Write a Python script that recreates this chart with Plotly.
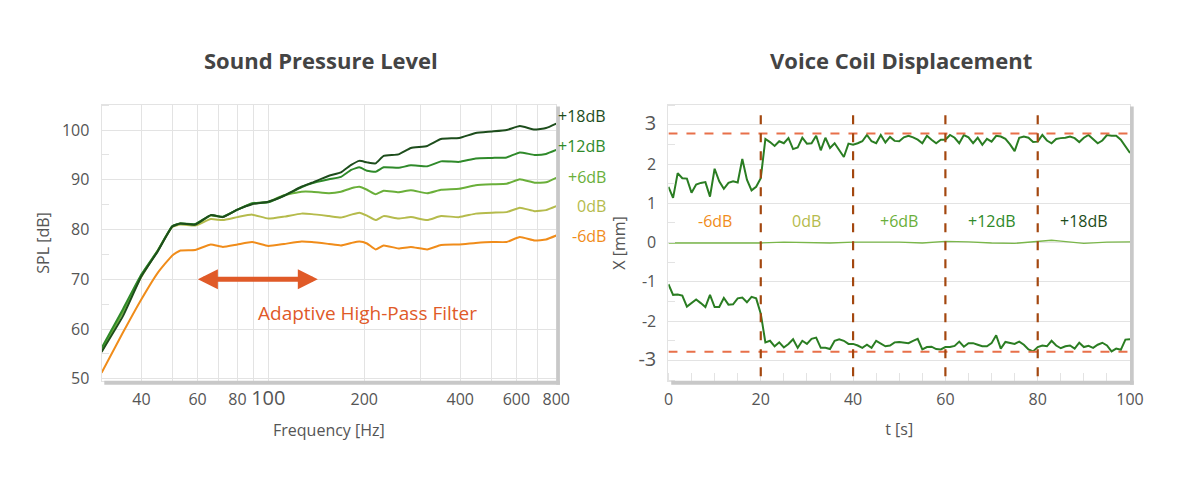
import plotly.graph_objects as go
import math

# --- Sound Pressure Level (left) ---
freq = [30, 35, 40, 45, 50, 53, 59, 66, 72, 80, 89, 100, 112, 127, 137, 155, 169,
        182, 193, 204, 217, 230, 256, 280, 315, 348, 397, 447, 503, 559, 615, 684, 743, 800]

spl_m6 = [51.2, 59.3, 66.0, 71.3, 74.8, 75.8, 75.9, 77.0, 76.5, 77.0, 77.5, 76.7, 77.1,
          77.6, 77.5, 77.1, 76.8, 77.3, 77.6, 77.2, 76.0, 76.8, 76.2, 76.5, 76.0, 76.9,
          77.0, 77.3, 77.5, 77.5, 78.5, 77.8, 78.0, 78.8]
spl_0 = [55.5, 63.5, 70.5, 75.8, 80.5, 81.0, 80.8, 82.1, 81.9, 82.5, 83.0, 82.2, 82.6,
         83.2, 83.1, 82.7, 82.4, 83.0, 83.4, 82.8, 81.9, 82.7, 82.2, 82.5, 81.9, 82.7,
         82.5, 83.2, 83.4, 83.5, 84.4, 83.7, 83.9, 84.7]
spl_p6 = [55.8, 63.5, 70.8, 75.7, 80.6, 81.2, 81.0, 82.8, 82.5, 84.0, 85.2, 85.6, 86.9,
          87.6, 87.6, 87.3, 87.6, 88.3, 88.6, 88.0, 87.1, 87.8, 87.5, 87.9, 87.3, 88.0,
          88.2, 88.9, 89.1, 89.2, 90.1, 89.4, 89.5, 90.4]
spl_p12 = [56.2, 64.0, 71.0, 75.8, 80.7, 81.2, 81.1, 82.9, 82.6, 84.0, 85.3, 85.5, 86.8,
           88.5, 89.3, 90.1, 90.6, 92.0, 92.5, 91.8, 91.6, 92.5, 92.4, 92.9, 92.7, 93.7,
           93.6, 94.3, 94.4, 94.5, 95.5, 95.0, 95.2, 96.0]
spl_p18 = [55.4, 62.6, 70.6, 75.6, 80.6, 81.2, 81.0, 82.9, 82.5, 84.0, 85.1, 85.6, 86.8,
           88.6, 89.4, 90.8, 91.5, 93.0, 93.8, 93.5, 93.3, 94.8, 95.1, 96.4, 96.8, 98.2,
           98.4, 99.4, 99.7, 100.0, 100.8, 100.1, 100.4, 101.3]

level_names = ["-6dB", "0dB", "+6dB", "+12dB", "+18dB"]
level_colors = ["#f08c1a", "#b5bb4c", "#6aaf3a", "#2f8a2a", "#1d4d1c"]

freq_ticks = [40, 60, 80, 100, 200, 400, 600, 800]
freq_minor = [50, 70, 90, 300, 500, 700]
filter_band = [59.5, 143]   # Hz, extent of the double arrow

# --- Voice Coil Displacement (right) ---
t = list(range(0, 101))
x_upper = [1.42, 1.14, 1.77, 1.64, 1.63, 1.27, 1.48, 1.52, 1.54, 1.17, 1.88, 1.56, 1.37,
           1.52, 1.56, 1.53, 2.13, 1.60, 1.33, 1.42, 1.64, 2.64, 2.56, 2.46, 2.58, 2.53,
           2.66, 2.38, 2.42, 2.67, 2.52, 2.53, 2.72, 2.35, 2.67, 2.41, 2.53, 2.35, 2.18,
           2.52, 2.49, 2.53, 2.58, 2.74, 2.58, 2.53, 2.74, 2.55, 2.69, 2.59, 2.58, 2.68,
           2.72, 2.68, 2.62, 2.53, 2.72, 2.62, 2.53, 2.62, 2.62, 2.74, 2.67, 2.53, 2.74,
           2.68, 2.53, 2.67, 2.49, 2.64, 2.57, 2.72, 2.70, 2.64, 2.50, 2.33, 2.67, 2.70,
           2.67, 2.56, 2.57, 2.74, 2.60, 2.53, 2.64, 2.66, 2.67, 2.70, 2.66, 2.56, 2.67,
           2.74, 2.64, 2.53, 2.60, 2.74, 2.72, 2.72, 2.62, 2.45, 2.28]
x_lower = [-1.06, -1.33, -1.32, -1.35, -1.63, -1.53, -1.45, -1.54, -1.64, -1.33, -1.64,
           -1.64, -1.41, -1.58, -1.57, -1.42, -1.40, -1.52, -1.38, -1.42, -1.81, -2.54,
           -2.50, -2.64, -2.54, -2.67, -2.58, -2.46, -2.68, -2.50, -2.58, -2.45, -2.42,
           -2.68, -2.68, -2.71, -2.50, -2.46, -2.50, -2.58, -2.58, -2.62, -2.68, -2.60,
           -2.68, -2.50, -2.58, -2.64, -2.62, -2.54, -2.53, -2.54, -2.56, -2.50, -2.45,
           -2.72, -2.66, -2.65, -2.71, -2.72, -2.66, -2.66, -2.63, -2.52, -2.65, -2.56,
           -2.56, -2.60, -2.64, -2.64, -2.56, -2.36, -2.70, -2.53, -2.56, -2.58, -2.52,
           -2.60, -2.72, -2.77, -2.66, -2.62, -2.64, -2.50, -2.62, -2.69, -2.64, -2.62,
           -2.70, -2.55, -2.66, -2.63, -2.68, -2.60, -2.55, -2.62, -2.77, -2.70, -2.73,
           -2.47, -2.46]
t_mid = [0, 5, 10, 15, 20, 25, 30, 35, 40, 45, 50, 55, 60, 65, 70, 75, 80, 83, 85, 90, 95, 100]
x_mid = [-0.01, -0.01, -0.01, 0.0, -0.01, 0.01, 0.0, -0.01, 0.01, 0.01, 0.01, -0.01,
         0.03, 0.02, -0.01, -0.02, 0.03, 0.06, 0.04, -0.02, 0.01, 0.02]

x_limit = 2.78
phase_edges = [20, 40, 60, 80]
phase_centers = [10, 30, 50, 70, 90]

FONT = "Open Sans"
W, H = 1200, 478
L_DOM = [90 / W, 552 / W]
R_DOM = [666 / W, 1135 / W]
Y_DOM = [1 - 380 / H, 1 - 99 / H]

fig = go.Figure()

for vals, name, col in zip([spl_m6, spl_0, spl_p6, spl_p12, spl_p18], level_names, level_colors):
    fig.add_trace(go.Scatter(x=freq, y=vals, mode="lines", name=name,
                             line=dict(color=col, width=2, shape="spline", smoothing=0.4),
                             xaxis="x", yaxis="y"))

fig.add_trace(go.Scatter(x=t, y=x_upper, mode="lines", line=dict(color="#2a7d22", width=2),
                         xaxis="x2", yaxis="y2"))
fig.add_trace(go.Scatter(x=t, y=x_lower, mode="lines", line=dict(color="#2a7d22", width=2),
                         xaxis="x2", yaxis="y2"))
fig.add_trace(go.Scatter(x=t_mid, y=x_mid, mode="lines", line=dict(color="#7ab64a", width=1.3),
                         xaxis="x2", yaxis="y2"))

shapes = []
# limit lines and phase separators
for yv in [x_limit, -x_limit]:
    shapes.append(dict(type="line", xref="x2", yref="y2", x0=0, x1=100, y0=yv, y1=yv,
                       line=dict(color="#e8704a", width=2, dash="dash")))
for xv in phase_edges:
    shapes.append(dict(type="line", xref="x2", yref="y2", x0=xv, x1=xv, y0=-3.4, y1=3.4,
                       line=dict(color="#a3470f", width=2.2, dash="dash")))
# drop shadows under/right of each plot
for xr, yr in [("x domain", "y domain"), ("x2 domain", "y2 domain")]:
    shapes.append(dict(type="rect", xref=xr, yref=yr, x0=0.006, x1=1.008, y0=-0.014, y1=0.0,
                       fillcolor="#c8c8c8", line=dict(width=0), layer="above"))
    shapes.append(dict(type="rect", xref=xr, yref=yr, x0=1.0, x1=1.008, y0=-0.014, y1=0.995,
                       fillcolor="#c8c8c8", line=dict(width=0), layer="above"))

annotations = [
    dict(text="<b>Sound Pressure Level</b>", xref="paper", yref="paper", x=313 / W, y=1 - 53 / H,
         xanchor="center", yanchor="middle", showarrow=False,
         font=dict(size=22, color="#444444", family=FONT)),
    dict(text="<b>Voice Coil Displacement</b>", xref="paper", yref="paper", x=902 / W, y=1 - 53 / H,
         xanchor="center", yanchor="middle", showarrow=False,
         font=dict(size=22, color="#444444", family=FONT)),
    dict(text="Adaptive High-Pass Filter", xref="x", yref="y", x=2.31, y=63.2, showarrow=False,
         xanchor="center", yanchor="middle", font=dict(size=19, color="#e05a28", family=FONT)),
    # double-headed arrow
    dict(x=math.log10(filter_band[1]), y=70, ax=math.log10(filter_band[0]), ay=70,
         xref="x", yref="y", axref="x", ayref="y", text="", showarrow=True,
         arrowhead=2, startarrowhead=2, arrowside="end+start", arrowsize=0.8,
         startarrowsize=0.8, arrowwidth=5, arrowcolor="#e05a28", standoff=0, startstandoff=0),
]
# level labels next to SPL curves
label_y = [232, 202, 172, 141, 110]
for name, col, py in zip(level_names, level_colors, label_y):
    annotations.append(dict(text=name, xref="paper", yref="paper", x=605 / W, y=1 - py / H,
                            xanchor="right", yanchor="middle", showarrow=False,
                            font=dict(size=16, color=col, family=FONT)))
# phase labels on displacement plot
for name, col, xc in zip(level_names, level_colors, phase_centers):
    annotations.append(dict(text=name, xref="x2", yref="y2", x=xc, y=0.55, showarrow=False,
                            xanchor="center", yanchor="middle",
                            font=dict(size=16, color=col, family=FONT)))

grid = "#e3e3e3"
tickfont = dict(size=16, color="#555555", family=FONT)
titlefont = dict(size=16, color="#555555", family=FONT)

fig.update_layout(
    width=W, height=H,
    margin=dict(l=0, r=0, t=0, b=0),
    paper_bgcolor="white", plot_bgcolor="white",
    showlegend=False,
    font=dict(family=FONT),
    shapes=shapes,
    annotations=annotations,
    xaxis=dict(domain=L_DOM, anchor="y", type="log", range=[1.4771, 2.9031],
               tickvals=freq_ticks,
               ticktext=[str(v) if v != 100 else "<span style='font-size:20px'>100</span>"
                         for v in freq_ticks],
               showgrid=True, gridcolor=grid, ticks="", tickfont=tickfont, ticklabelstandoff=4,
               minor=dict(tickvals=freq_minor, showgrid=True, gridcolor=grid),
               showline=True, linecolor="#e3e3e3", mirror=True, zeroline=False,
               title=dict(text="Frequency [Hz]", font=titlefont, standoff=14)),
    yaxis=dict(domain=Y_DOM, anchor="x", range=[49.6, 105], tickvals=[50, 60, 70, 80, 90, 100],
               showgrid=True, gridcolor=grid, ticks="", tickfont=tickfont, ticklabelstandoff=8,
               minor=dict(dtick=5, ticks="inside", ticklen=7, tickcolor="#e3e3e3", showgrid=False),
               showline=True, linecolor="#e3e3e3", mirror=True, zeroline=False,
               title=dict(text="SPL [dB]", font=titlefont, standoff=8)),
    xaxis2=dict(domain=R_DOM, anchor="y2", range=[0, 100], tickvals=[0, 20, 40, 60, 80, 100],
                showgrid=False, ticks="", tickfont=tickfont, ticklabelstandoff=4,
                minor=dict(dtick=5, ticks="inside", ticklen=8, tickcolor="#e3e3e3"),
                showline=True, linecolor="#e3e3e3", mirror=True, zeroline=False,
                title=dict(text="t [s]", font=titlefont, standoff=14)),
    yaxis2=dict(domain=Y_DOM, anchor="x2", range=[-3.52, 3.5], tickvals=[-3, -2, -1, 0, 1, 2, 3],
                ticktext=["<span style='font-size:20px'>-3</span>", "-2", "-1", "0", "1", "2",
                          "<span style='font-size:20px'>3</span>"],
                showgrid=True, gridcolor=grid, ticks="", tickfont=tickfont, ticklabelstandoff=8,
                minor=dict(dtick=0.5, ticks="inside", ticklen=7, tickcolor="#e3e3e3", showgrid=False),
                showline=True, linecolor="#e3e3e3", mirror=True, zeroline=False,
                title=dict(text="X [mm]", font=titlefont, standoff=8)),
)

fig.write_html("out.html")
